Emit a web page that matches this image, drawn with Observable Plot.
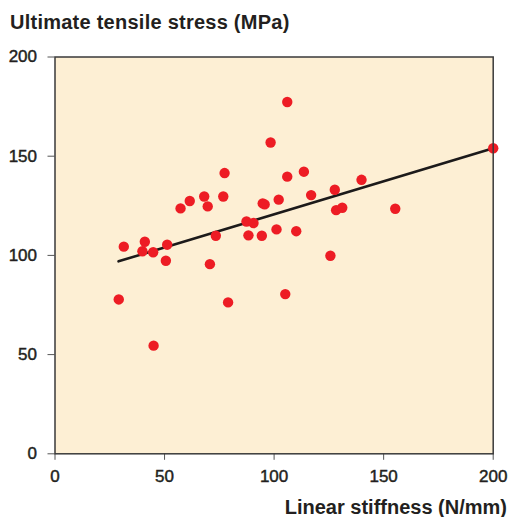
<!DOCTYPE html>
<html><head><meta charset="utf-8">
<script src="https://cdn.jsdelivr.net/npm/d3@7"></script>
<script src="https://cdn.jsdelivr.net/npm/@observablehq/plot@0.6"></script>
<style>
body{margin:0;background:#fff;font-family:"Liberation Sans",Arial,sans-serif;color:#231f20}
#wrap{width:509px;height:517px}
.title{height:40px;box-sizing:border-box;padding:12.4px 0 0 10px;font-size:20px;font-weight:bold;line-height:20px;letter-spacing:0.25px;white-space:nowrap}
.xlabel{height:27px;box-sizing:border-box;padding:7.4px 2px 0 0;text-align:right;font-size:20px;font-weight:bold;line-height:20px;white-space:nowrap}
#chart svg{display:block}
#chart g[aria-label$="tick label"] text{stroke:#231f20;stroke-width:0.45px}
</style></head>
<body>
<div id="wrap">
  <div class="title">Ultimate tensile stress (MPa)</div>
  <div id="chart"></div>
  <div class="xlabel">Linear stiffness (N/mm)</div>
</div>
<script>
const stiffness = [29.1,31.4,41.0,39.9,44.8,45.0,51.2,50.6,57.3,61.5,68.1,69.7,77.4,76.8,73.4,70.7,79.0,87.4,90.6,88.3,94.4,94.8,95.7,98.4,102.1,101.1,106.0,106.0,113.6,116.9,110.1,105.1,125.7,127.7,128.3,131.1,139.9,155.3,200.0];
const stress    = [77.8,104.4,106.9,102.1,101.6,54.5,105.4,97.3,123.7,127.4,129.7,124.7,141.5,129.7,109.9,95.6,76.3,117.1,116.3,110.1,109.9,126.2,125.7,156.9,128.1,113.1,177.3,139.7,142.2,130.4,112.2,80.5,99.8,133.1,122.8,124.0,138.1,123.5,154.0];
const fitX = [29, 200];
const fitY = [97, 154];
const xTicks = [0, 50, 100, 150, 200];
const yTicks = [0, 50, 100, 150, 200];

const points = stiffness.map((x, i) => ({x, y: stress[i]}));
const fit = fitX.map((x, i) => ({x, y: fitY[i]}));

const chart = Plot.plot({
  width: 509,
  height: 450,
  marginTop: 16.5,
  marginBottom: 36.7,
  marginLeft: 54.5,
  marginRight: 16.3,
  style: {fontFamily: '"Liberation Sans", Arial, sans-serif', fontSize: "17px", color: "#231f20", background: "#fff"},
  x: {domain: [0, 200]},
  y: {domain: [0, 200]},
  marks: [
    Plot.frame({fill: "#fdefd4", stroke: null}),
    Plot.axisX({ticks: xTicks, tickSize: 6.5, tickPadding: 9.5, label: null, stroke: "#555", fill: "#231f20"}),
    Plot.axisY({ticks: yTicks, tickSize: 7, tickPadding: 11, label: null, stroke: "#555", fill: "#231f20"}),
    Plot.line(fit, {x: "x", y: "y", stroke: "#1c1a1a", strokeWidth: 2.6}),
    Plot.dot(points, {x: "x", y: "y", r: 5.2, fill: "#ed1c24", stroke: null}),
    Plot.frame({stroke: "#3a3a3a", strokeWidth: 1.5})
  ]
});
document.getElementById("chart").appendChild(chart);
</script>
</body></html>
